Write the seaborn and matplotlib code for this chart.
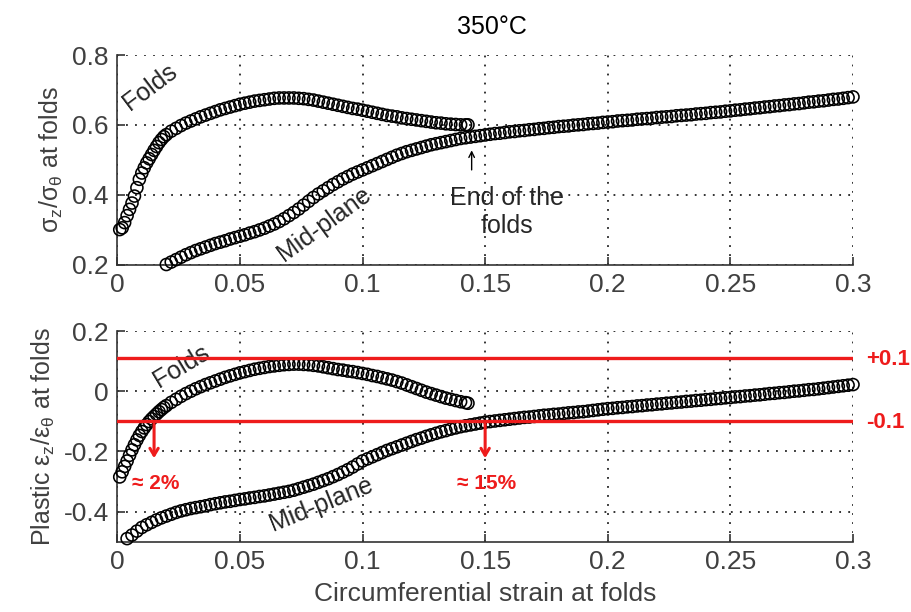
import numpy as np
import matplotlib.pyplot as plt
import seaborn as sns

sns.set_style('white')
plt.rcParams['font.family'] = ['Liberation Sans', 'DejaVu Sans']
plt.rcParams['axes.unicode_minus'] = False
plt.rcParams['mathtext.fontset'] = 'custom'
plt.rcParams['mathtext.rm'] = 'Liberation Sans'
plt.rcParams['mathtext.it'] = 'Liberation Sans'
plt.rcParams['mathtext.default'] = 'regular'

# circumferential strain at folds, "Folds" curves (both panels)
fold_x = [0.001, 0.002, 0.003, 0.004, 0.005, 0.006, 0.007, 0.008, 0.009, 0.010,
          0.011, 0.012, 0.013, 0.014, 0.015, 0.016, 0.017, 0.018, 0.019, 0.020,
          0.022, 0.024, 0.026, 0.028, 0.030, 0.032, 0.034, 0.036, 0.038, 0.040,
          0.042, 0.044, 0.046, 0.048, 0.050, 0.052, 0.054, 0.056, 0.058, 0.060,
          0.062, 0.064, 0.066, 0.068, 0.070, 0.072, 0.074, 0.076, 0.078, 0.080,
          0.082, 0.084, 0.086, 0.088, 0.090, 0.092, 0.094, 0.096, 0.098, 0.100,
          0.102, 0.104, 0.106, 0.108, 0.110, 0.112, 0.114, 0.116, 0.118, 0.120,
          0.122, 0.124, 0.126, 0.128, 0.130, 0.132, 0.134, 0.136, 0.138, 0.140,
          0.142, 0.143]

# sigma_z / sigma_theta at the folds
stress_fold = [0.300, 0.305, 0.320, 0.340, 0.358, 0.376, 0.396, 0.420, 0.444, 0.462,
               0.477, 0.491, 0.503, 0.515, 0.527, 0.538, 0.549, 0.558, 0.566, 0.572,
               0.582, 0.590, 0.598, 0.605, 0.611, 0.617, 0.623, 0.628, 0.633, 0.638,
               0.643, 0.647, 0.651, 0.655, 0.659, 0.662, 0.665, 0.668, 0.670, 0.672,
               0.674, 0.676, 0.677, 0.677, 0.677, 0.677, 0.676, 0.675, 0.673, 0.671,
               0.668, 0.665, 0.662, 0.659, 0.656, 0.653, 0.650, 0.647, 0.645, 0.642,
               0.639, 0.636, 0.633, 0.630, 0.627, 0.625, 0.623, 0.620, 0.618, 0.616,
               0.614, 0.612, 0.610, 0.608, 0.606, 0.605, 0.603, 0.602, 0.601, 0.600,
               0.600, 0.600]

# plastic eps_z / eps_theta at the folds
strain_fold = [-0.285, -0.268, -0.250, -0.232, -0.213, -0.195, -0.178, -0.162, -0.147, -0.134,
               -0.122, -0.111, -0.101, -0.092, -0.084, -0.076, -0.068, -0.061, -0.054, -0.048,
               -0.037, -0.027, -0.017, -0.008, 0.000, 0.008, 0.015, 0.022, 0.028, 0.034,
               0.040, 0.046, 0.051, 0.056, 0.061, 0.065, 0.069, 0.073, 0.076, 0.079,
               0.082, 0.084, 0.086, 0.088, 0.089, 0.090, 0.090, 0.089, 0.088, 0.086,
               0.084, 0.081, 0.078, 0.075, 0.072, 0.070, 0.067, 0.065, 0.062, 0.059,
               0.056, 0.052, 0.049, 0.045, 0.041, 0.037, 0.032, 0.027, 0.021, 0.015,
               0.009, 0.003, -0.003, -0.008, -0.013, -0.018, -0.023, -0.027, -0.031, -0.035,
               -0.038, -0.040]

# circumferential strain, "Mid-plane" curves
mid_x = [0.004, 0.006, 0.008, 0.010, 0.012, 0.014, 0.016, 0.018, 0.020, 0.022,
         0.024, 0.026, 0.028, 0.030, 0.032, 0.034, 0.036, 0.038, 0.040, 0.042,
         0.044, 0.046, 0.048, 0.050, 0.052, 0.054, 0.056, 0.058, 0.060, 0.062,
         0.064, 0.066, 0.068, 0.070, 0.072, 0.074, 0.076, 0.078, 0.080, 0.082,
         0.084, 0.086, 0.088, 0.090, 0.092, 0.094, 0.096, 0.098, 0.100, 0.102,
         0.104, 0.106, 0.108, 0.110, 0.112, 0.114, 0.116, 0.118, 0.120, 0.122,
         0.124, 0.126, 0.128, 0.130, 0.132, 0.134, 0.136, 0.138, 0.140, 0.142,
         0.144, 0.146, 0.148, 0.150, 0.152, 0.154, 0.156, 0.158, 0.160, 0.162,
         0.164, 0.166, 0.168, 0.170, 0.172, 0.174, 0.176, 0.178, 0.180, 0.182,
         0.184, 0.186, 0.188, 0.190, 0.192, 0.194, 0.196, 0.198, 0.200, 0.202,
         0.204, 0.206, 0.208, 0.210, 0.212, 0.214, 0.216, 0.218, 0.220, 0.222,
         0.224, 0.226, 0.228, 0.230, 0.232, 0.234, 0.236, 0.238, 0.240, 0.242,
         0.244, 0.246, 0.248, 0.250, 0.252, 0.254, 0.256, 0.258, 0.260, 0.262,
         0.264, 0.266, 0.268, 0.270, 0.272, 0.274, 0.276, 0.278, 0.280, 0.282,
         0.284, 0.286, 0.288, 0.290, 0.292, 0.294, 0.296, 0.298, 0.300]

# sigma_z / sigma_theta at mid-plane (visible from x = 0.02 on)
stress_mid = [0.200, 0.207, 0.214, 0.221, 0.228, 0.234, 0.240, 0.245, 0.250, 0.255,
              0.260, 0.264, 0.268, 0.273, 0.277, 0.281, 0.285, 0.290, 0.294, 0.299,
              0.304, 0.310, 0.316, 0.323, 0.331, 0.340, 0.349, 0.359, 0.370, 0.381,
              0.392, 0.402, 0.411, 0.420, 0.429, 0.437, 0.445, 0.452, 0.459, 0.465,
              0.471, 0.477, 0.483, 0.489, 0.495, 0.501, 0.507, 0.513, 0.518, 0.523,
              0.527, 0.531, 0.535, 0.539, 0.543, 0.546, 0.549, 0.552, 0.555, 0.558,
              0.561, 0.563, 0.565, 0.567, 0.569, 0.571, 0.573, 0.575, 0.576, 0.578,
              0.580, 0.581, 0.583, 0.584, 0.586, 0.587, 0.589, 0.590, 0.592, 0.593,
              0.595, 0.596, 0.597, 0.599, 0.600, 0.601, 0.603, 0.604, 0.605, 0.607,
              0.608, 0.609, 0.611, 0.612, 0.613, 0.614, 0.616, 0.617, 0.618, 0.619,
              0.621, 0.622, 0.623, 0.624, 0.626, 0.627, 0.628, 0.629, 0.631, 0.632,
              0.633, 0.635, 0.636, 0.637, 0.639, 0.640, 0.642, 0.643, 0.645, 0.646,
              0.648, 0.649, 0.651, 0.652, 0.654, 0.655, 0.657, 0.658, 0.660, 0.661,
              0.663, 0.665, 0.666, 0.668, 0.669, 0.671, 0.673, 0.674, 0.676, 0.678,
              0.680]

# plastic eps_z / eps_theta at mid-plane
strain_mid = [-0.490, -0.478, -0.465, -0.453, -0.444, -0.436, -0.428, -0.421, -0.415, -0.409,
              -0.403, -0.398, -0.394, -0.390, -0.387, -0.384, -0.381, -0.377, -0.374, -0.371,
              -0.368, -0.366, -0.363, -0.360, -0.358, -0.355, -0.353, -0.350, -0.348, -0.345,
              -0.342, -0.339, -0.336, -0.333, -0.329, -0.324, -0.319, -0.314, -0.309, -0.303,
              -0.297, -0.291, -0.284, -0.277, -0.269, -0.261, -0.252, -0.242, -0.232, -0.225,
              -0.218, -0.211, -0.204, -0.197, -0.191, -0.185, -0.179, -0.173, -0.167, -0.161,
              -0.156, -0.150, -0.145, -0.140, -0.135, -0.131, -0.126, -0.122, -0.118, -0.115,
              -0.112, -0.109, -0.106, -0.103, -0.101, -0.099, -0.097, -0.095, -0.093, -0.091,
              -0.089, -0.087, -0.086, -0.084, -0.082, -0.080, -0.079, -0.077, -0.076, -0.074,
              -0.072, -0.071, -0.069, -0.068, -0.066, -0.064, -0.062, -0.060, -0.058, -0.057,
              -0.055, -0.054, -0.052, -0.051, -0.049, -0.048, -0.046, -0.045, -0.043, -0.042,
              -0.040, -0.039, -0.037, -0.036, -0.034, -0.033, -0.031, -0.030, -0.028, -0.027,
              -0.025, -0.024, -0.022, -0.021, -0.019, -0.018, -0.016, -0.015, -0.013, -0.012,
              -0.010, -0.008, -0.007, -0.005, -0.004, -0.002, 0.000, 0.001, 0.003, 0.005,
              0.006, 0.008, 0.010, 0.012, 0.014, 0.016, 0.018, 0.020, 0.022]

x_ticks = [0, 0.05, 0.1, 0.15, 0.2, 0.25, 0.3]
top_yticks = [0.2, 0.4, 0.6, 0.8]
bot_yticks = [-0.4, -0.2, 0, 0.2]

# red threshold lines and where the curves cross -0.1
thresholds = [0.11, -0.1]
threshold_labels = ['+0.1', '-0.1']
crossings = [0.015, 0.15]
crossing_labels = ['\u2248 2%', '\u2248 15%']

RED = '#ee1c1c'
GRAY = '#404040'

fig = plt.figure(figsize=(9.12, 6.12), dpi=100)
ax1 = fig.add_axes([0.1286, 0.5678, 0.8067, 0.3423])
ax2 = fig.add_axes([0.1286, 0.1150, 0.8067, 0.3441])

mk = dict(marker='o', s=75, color='black', facecolor='none', edgecolor='black',
          linewidth=1.15, clip_on=False, legend=False, zorder=3)

top_mid_x = mid_x[len(mid_x) - len(stress_mid):]
sns.scatterplot(x=fold_x, y=stress_fold, ax=ax1, **mk)
sns.scatterplot(x=top_mid_x, y=stress_mid, ax=ax1, **mk)
sns.scatterplot(x=fold_x, y=strain_fold, ax=ax2, **mk)
sns.scatterplot(x=mid_x, y=strain_mid, ax=ax2, **mk)

for ax, yt, ylim in [(ax1, top_yticks, (0.2, 0.8)), (ax2, bot_yticks, (-0.5, 0.2))]:
    ax.set_xlim(0, 0.3)
    ax.set_ylim(*ylim)
    ax.set_xticks(x_ticks)
    ax.set_xticklabels(['%g' % t for t in x_ticks])
    ax.set_yticks(yt)
    ax.set_yticklabels(['%g' % t for t in yt])
    ax.grid(True, color='#222222', linestyle=(0, (1, 4)), linewidth=1.3)
    ax.set_axisbelow(True)
    for side in ['top', 'right']:
        ax.spines[side].set_visible(False)
    for side in ['left', 'bottom']:
        ax.spines[side].set_color('#333333')
        ax.spines[side].set_linewidth(1.2)
    ax.tick_params(direction='in', length=6, width=1.2, colors='#333333',
                   labelsize=19, labelcolor=GRAY, pad=6, left=True, bottom=True)

ax1.set_ylabel(r'$\sigma_z/\sigma_\theta$ at folds', fontsize=18, color=GRAY, labelpad=5)
ax2.set_ylabel(r'Plastic $\varepsilon_z/\varepsilon_\theta$ at folds', fontsize=18,
               color=GRAY, labelpad=5)
ax2.set_xlabel('Circumferential strain at folds', fontsize=19, color=GRAY, labelpad=6)

fig.text(0.5395, 0.956, '350\u00b0C', fontsize=18, ha='center', va='center', color='black')

# curve annotations, top panel
ax1.text(0.0133, 0.708, 'Folds', fontsize=18, rotation=37, ha='center', va='center')
ax1.text(0.0845, 0.315, 'Mid-plane', fontsize=18, rotation=36, ha='center', va='center')
ax1.text(0.159, 0.35, 'End of the\nfolds', fontsize=18, ha='center', va='center',
         linespacing=1.2)
ax1.annotate('', xy=(0.1445, 0.535), xytext=(0.1445, 0.463),
             arrowprops=dict(arrowstyle='->', color='black', lw=1))

# curve annotations, bottom panel
ax2.text(0.0262, 0.082, 'Folds', fontsize=18, rotation=31, ha='center', va='center')
ax2.text(0.083, -0.375, 'Mid-plane', fontsize=18, rotation=22, ha='center', va='center')

for yv, lab in zip(thresholds, threshold_labels):
    ax2.axhline(yv, color=RED, lw=2.4, zorder=4)
    ax2.text(0.3055, yv - 0.003, lab, color=RED, fontsize=16, fontweight='bold',
             ha='left', va='center', clip_on=False)

for xv, lab in zip(crossings, crossing_labels):
    ax2.annotate('', xy=(xv, -0.232), xytext=(xv, thresholds[1]),
                 arrowprops=dict(arrowstyle='->,head_length=0.5,head_width=0.3',
                                 color=RED, lw=2.2), zorder=5)
    ax2.text(xv + 0.0005, -0.307, lab, color=RED, fontsize=15, fontweight='bold',
             ha='center', va='center')

fig.savefig('out.png', dpi=100)
